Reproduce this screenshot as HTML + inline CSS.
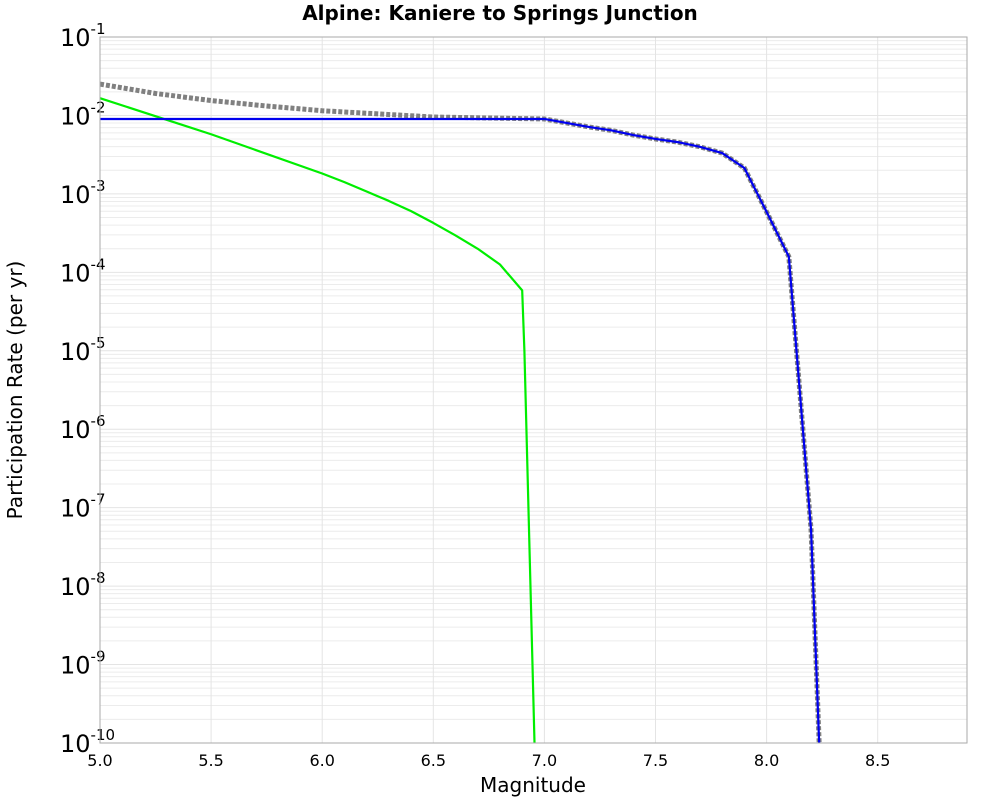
<!DOCTYPE html>
<html><head><meta charset="utf-8"><style>
body{margin:0;background:#fff;font-family:"Liberation Sans","DejaVu Sans",sans-serif}
svg text{font-family:"DejaVu Sans","Liberation Sans",sans-serif}
</style></head><body>
<svg id="chart" width="1000" height="800" xmlns="http://www.w3.org/2000/svg">
<text x="500" y="20" text-anchor="middle" font-size="20" font-weight="bold">Alpine: Kaniere to Springs Junction</text>
<g id="grid"></g>
<g id="ticks"></g>
<defs><clipPath id="clip"><rect x="100" y="37" width="867" height="706"/></clipPath></defs>
<g id="series" clip-path="url(#clip)"></g>
<rect x="100" y="37" width="867" height="706" fill="none" stroke="#aaa" stroke-width="1"/>
<text x="533" y="792" text-anchor="middle" font-size="20">Magnitude</text>
<text transform="translate(22,390) rotate(-90)" text-anchor="middle" font-size="20">Participation Rate (per yr)</text>
</svg>
<script>
const xTicks=[5.0,5.5,6.0,6.5,7.0,7.5,8.0,8.5];
const yExps=[-1,-2,-3,-4,-5,-6,-7,-8,-9,-10];
const grayM=[5.0,5.25,5.5,5.75,6.0,6.5,7.0,7.2,7.3,7.4,7.5,7.6,7.7,7.8,7.9,8.0,8.1,8.2,8.25];
const grayLog=[-1.60,-1.72,-1.81,-1.88,-1.94,-2.02,-2.045,-2.147,-2.19,-2.25,-2.30,-2.34,-2.40,-2.48,-2.67,-3.23,-3.80,-7.28,-11.0];
const blueM=[5.0,7.0,7.2,7.3,7.4,7.5,7.6,7.7,7.8,7.9,8.0,8.1,8.2,8.25];
const blueLog=[-2.045,-2.045,-2.147,-2.19,-2.25,-2.30,-2.34,-2.40,-2.48,-2.67,-3.23,-3.80,-7.28,-11.0];
const greenM=[5.0,5.5,6.0,6.1,6.2,6.3,6.4,6.5,6.6,6.7,6.8,6.9,6.91,6.96];
const greenLog=[-1.78,-2.24,-2.74,-2.85,-2.97,-3.09,-3.22,-3.37,-3.53,-3.70,-3.90,-4.23,-5.0,-10.5];
const NS="http://www.w3.org/2000/svg";
const X=m=>100+(m-5)*222.2;
const Y=l=>37+(-1-l)*78.44;
const grid=document.getElementById('grid'),ticks=document.getElementById('ticks'),series=document.getElementById('series');
function mk(t,a,p){const e=document.createElementNS(NS,t);for(const k in a)e.setAttribute(k,a[k]);p.appendChild(e);return e;}
for(let d=-10;d<-1;d++){for(let k=2;k<=9;k++){const y=Y(d+Math.log10(k));
const l=mk('line',{x1:100,x2:967,y1:y,y2:y,stroke:'#ececec','stroke-width':1},grid);

}}
yExps.forEach(e=>{const y=Y(e);
const l=mk('line',{x1:100,x2:967,y1:y,y2:y,stroke:'#e4e4e4','stroke-width':1},grid);


const t=mk('text',{x:60,y:y+9,'font-size':24},ticks);


t.textContent='10';
const s=mk('tspan',{dy:-12,'font-size':15},t);s.textContent=String(e);});
xTicks.forEach(m=>{const x=X(m);
const l=mk('line',{x1:x,x2:x,y1:37,y2:743,stroke:'#e4e4e4','stroke-width':1},grid);


const t=mk('text',{x:x,y:766,'text-anchor':'middle','font-size':16},ticks);


t.textContent=m.toFixed(1);});
function line(ms,ls,attrs,name){const pts=ms.map((m,i)=>X(m)+','+Y(ls[i])).join(' ');
const p=mk('polyline',Object.assign({points:pts,fill:'none','stroke-linejoin':'round'},attrs),series);

}
line(greenM,greenLog,{stroke:'#00ee00','stroke-width':2.2},'green-series');
line(grayM,grayLog,{stroke:'#808080','stroke-width':5,'stroke-dasharray':'4,2'},'gray-dotted-series');
line(blueM,blueLog,{stroke:'#0000ee','stroke-width':2.2},'blue-series');
</script>
</body></html>
